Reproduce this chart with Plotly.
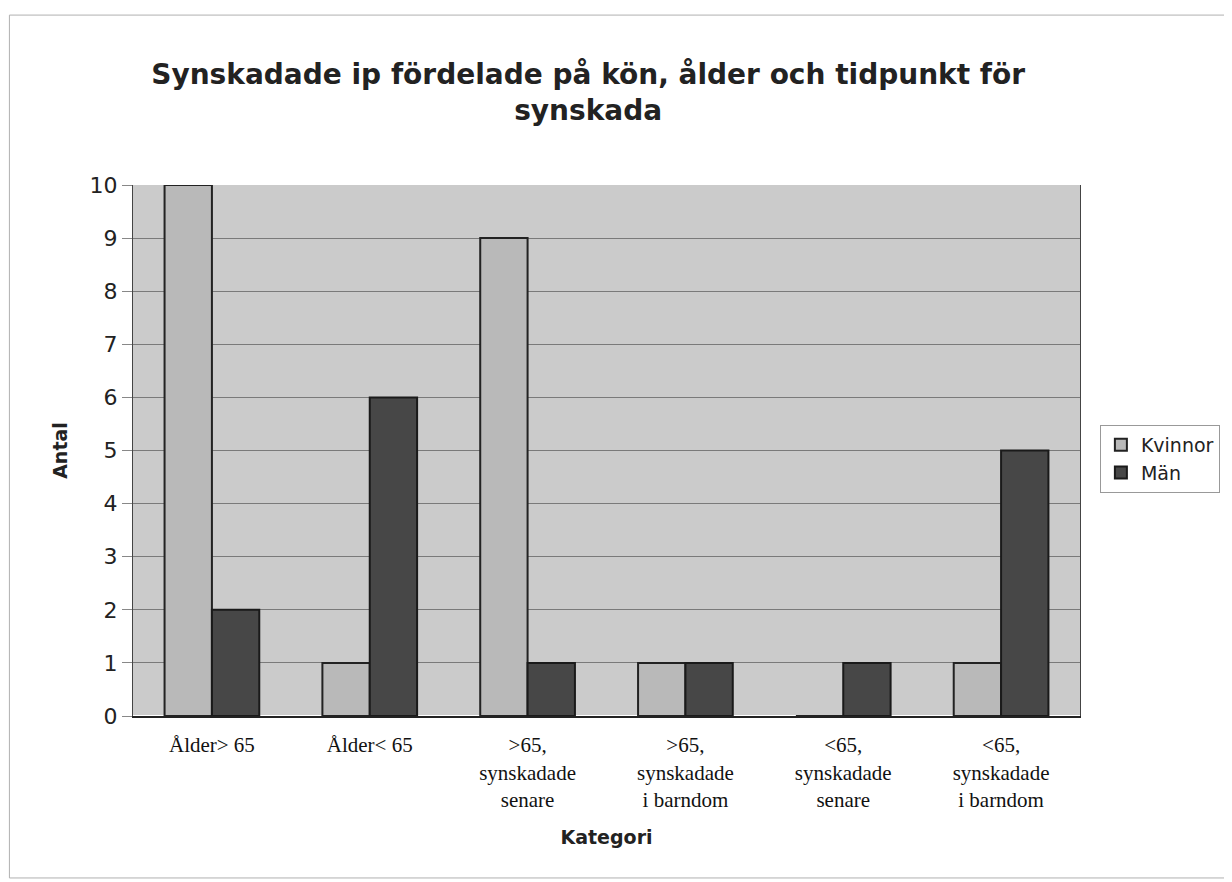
import plotly.graph_objects as go

categories = ["Ålder> 65", "Ålder< 65", ">65,<br>synskadade<br>senare", ">65,<br>synskadade<br>i barndom",
              "<65,<br>synskadade<br>senare", "<65,<br>synskadade<br>i barndom"]
kvinnor = [10, 1, 9, 1, 0, 1]
man = [2, 6, 1, 1, 1, 5]
y_ticks = list(range(0, 11))

fig = go.Figure()
fig.add_trace(go.Bar(x=categories, y=kvinnor, name="Kvinnor",
                     marker=dict(color="#b9b9b9", line=dict(color="#222222", width=2))))
fig.add_trace(go.Bar(x=categories, y=man, name="Män",
                     marker=dict(color="#474747", line=dict(color="#1a1a1a", width=2))))

fig.update_layout(
    width=1224, height=874,
    paper_bgcolor="white", plot_bgcolor="#cbcbcb",
    barmode="group", bargap=0.4, bargroupgap=0,
    margin=dict(l=125, r=149, t=177, b=166),
    title=dict(text="<b>Synskadade ip fördelade på kön, ålder och tidpunkt för<br>synskada</b>",
               x=0.474, xanchor="center", yref="container", y=0.913, yanchor="middle",
               font=dict(family="DejaVu Sans", size=28, color="#222222")),
    font=dict(family="DejaVu Sans", color="#111111"),
    legend=dict(x=1.021, y=0.484, xanchor="left", yanchor="middle",
                bordercolor="#999999", borderwidth=1, bgcolor="white",
                font=dict(family="DejaVu Sans", size=19, color="#222222"), itemwidth=30, tracegroupgap=4),
    showlegend=True,
)
fig.update_xaxes(
    tickfont=dict(family="Liberation Serif", size=21, color="#111111"),
    showline=True, linecolor="#222222", linewidth=2,
    title=dict(text="<b>Kategori</b>", font=dict(family="DejaVu Sans", size=19, color="#222222"), standoff=20),
    ticks="outside", ticklen=9, tickcolor="rgba(0,0,0,0)", showgrid=False,
)
fig.update_yaxes(
    range=[0, 10], tickvals=y_ticks,
    tickfont=dict(family="DejaVu Sans", size=22, color="#222222"),
    showgrid=True, gridcolor="#7a7a7a", gridwidth=1,
    showline=True, linecolor="#444444", linewidth=1, mirror=True,
    ticks="outside", ticklen=10, tickcolor="#888888",
    title=dict(text="<b>Antal</b>", font=dict(family="DejaVu Sans", size=19, color="#222222"), standoff=16),
)
fig.add_shape(type="rect", xref="paper", yref="paper", x0=-0.1305, x1=1.155, y0=-0.305, y1=1.32,
              line=dict(color="#b0b0b0", width=1), layer="below")
fig.write_html("out.html")
